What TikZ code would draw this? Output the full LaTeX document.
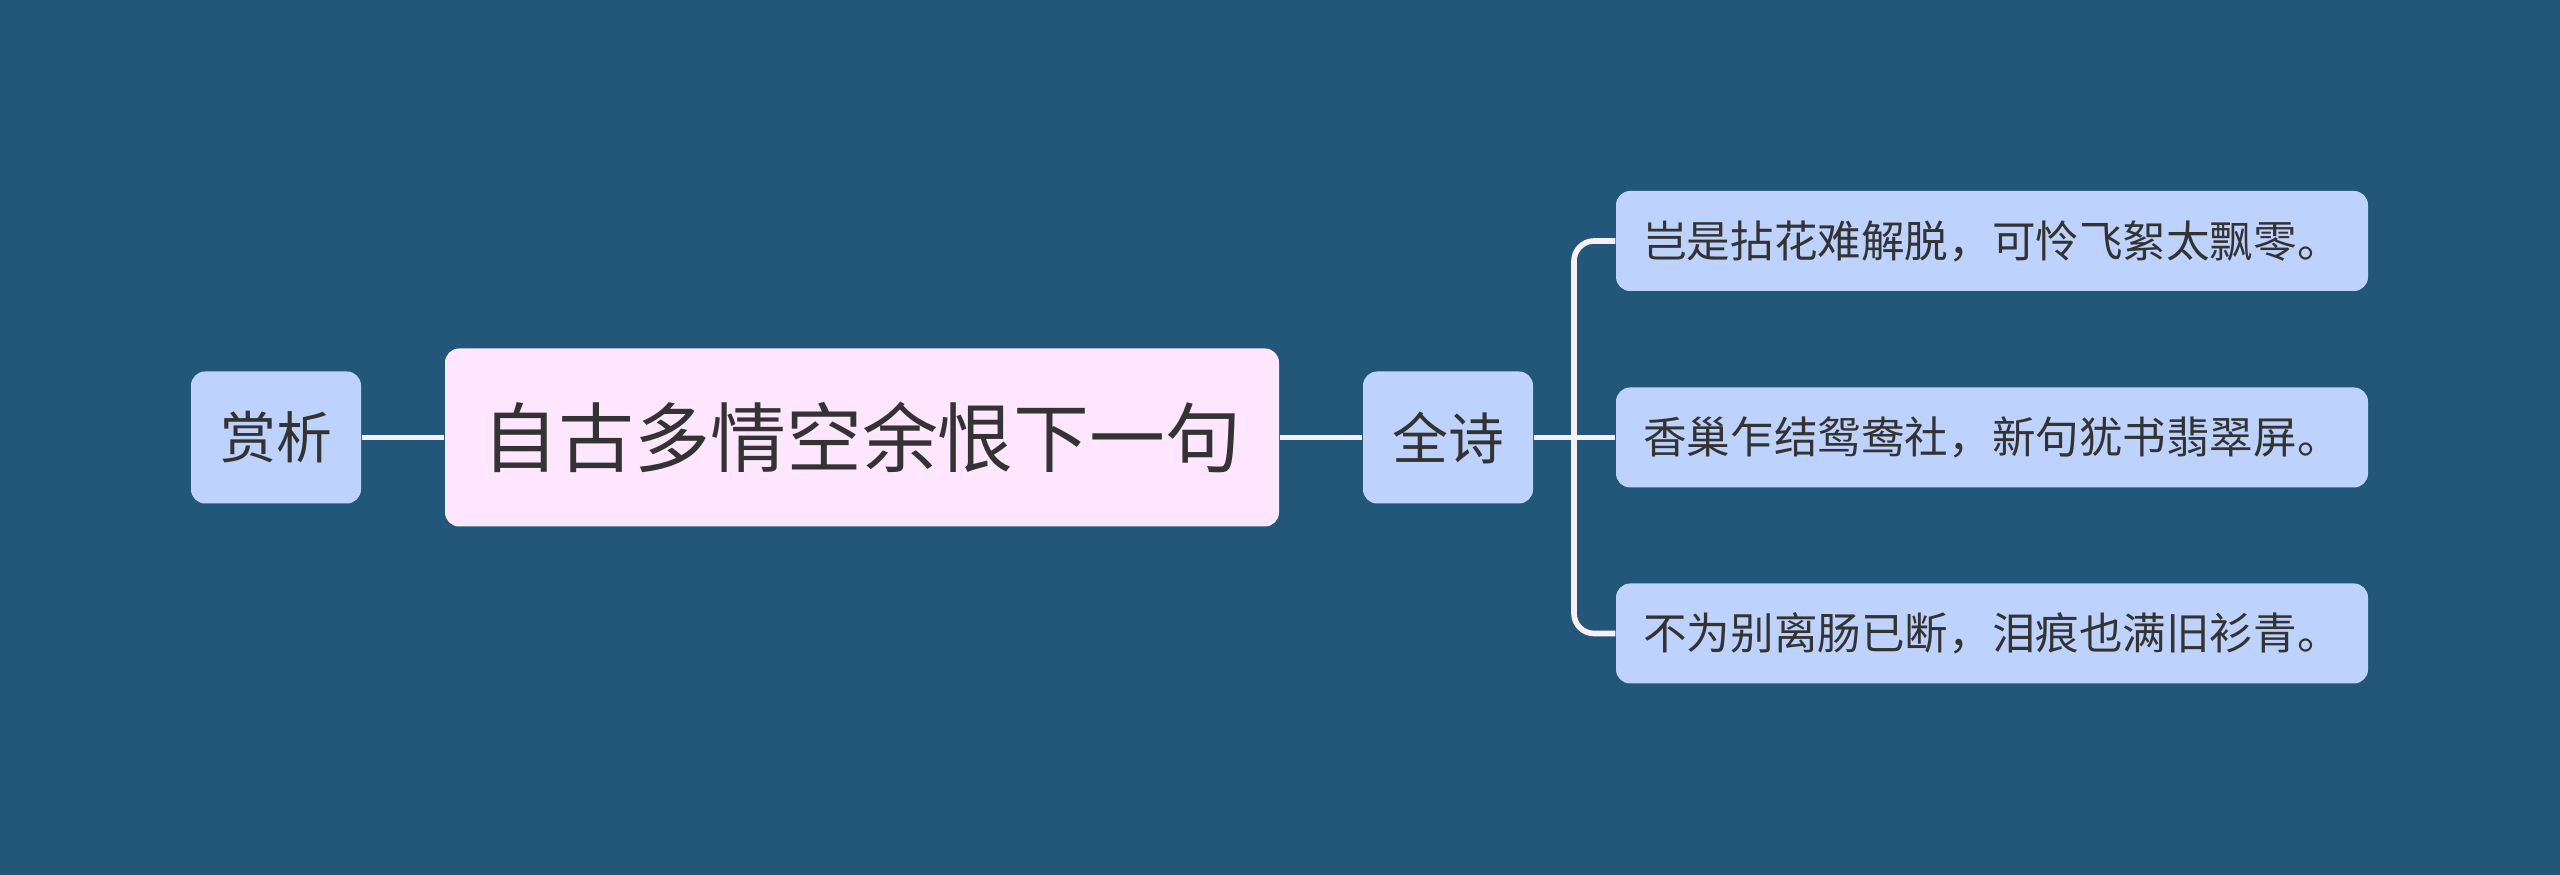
\documentclass[tikz,border=0pt]{standalone}
\usepackage{fontspec}
\setmainfont{Noto Sans CJK SC}
\usetikzlibrary{positioning,calc}
\definecolor{mmBack}{HTML}{22577A}
\definecolor{mmBlue}{HTML}{BDD2FD}
\definecolor{mmPink}{HTML}{FFE6FF}
\definecolor{mmInk}{HTML}{333333}
\definecolor{mmLine}{HTML}{F7F0FA}
\tikzset{
  topic/.style={rounded corners=4pt,align=center,text=mmInk,inner sep=0pt},
  root/.style={topic,fill=mmPink,minimum width=8.34cm,minimum height=1.78cm,
    font=\fontsize{21.6}{25}\selectfont},
  branch/.style={topic,fill=mmBlue,minimum width=1.70cm,minimum height=1.32cm,
    font=\fontsize{15.9}{19}\selectfont},
  leaf/.style={topic,fill=mmBlue,minimum width=7.52cm,minimum height=1.00cm,
    font=\fontsize{12.4}{15}\selectfont},
  link/.style={draw=mmLine,line width=1.6pt},
}

\begin{document}
\begin{tikzpicture}[x=1cm,y=1cm]
  \fill[mmBack] (0,0) rectangle (25.6,8.75);
  \useasboundingbox (0,0) rectangle (25.6,8.75);
  \node[root] (poem) at (8.62,4.375) {自古多情空余恨下一句};
  \node[branch] (shangxi) at (2.76,4.375) {赏析};
  \node[branch] (quanshi) at (14.48,4.375) {全诗};
  \node[leaf] (line1) at (19.92,6.34) {岂是拈花难解脱，可怜飞絮太飘零。};
  \node[leaf] (line2) at (19.92,4.375) {香巢乍结鸳鸯社，新句犹书翡翠屏。};
  \node[leaf] (line3) at (19.92,2.415) {不为别离肠已断，泪痕也满旧衫青。};
  \coordinate (trunk) at (15.74,4.375);
  \draw[link] (shangxi) -- (poem);
  \draw[link] (poem) -- (quanshi);
  \draw[link] (quanshi) -- (line2);
  \draw[link,rounded corners=0.2cm] (trunk) |- (line1.west);
  \draw[link,rounded corners=0.2cm] (trunk) |- (line3.west);
\end{tikzpicture}
\end{document}
